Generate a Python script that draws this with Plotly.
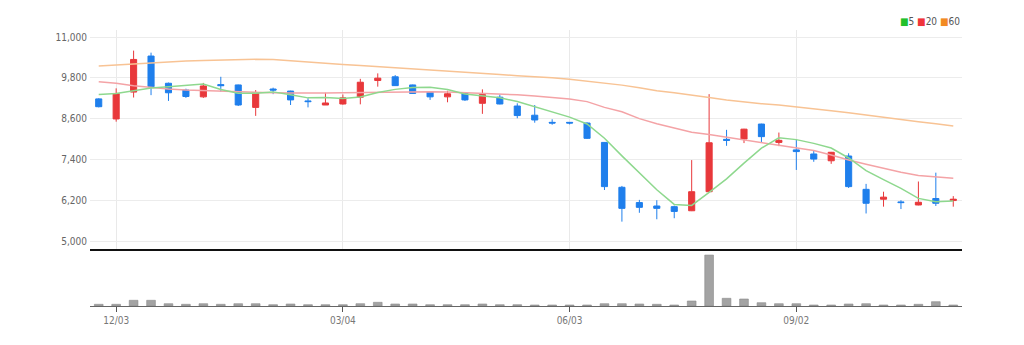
import plotly.graph_objects as go
import pandas as pd

# ---- data (weekly candles) ----
dates = [d.strftime("%Y-%m-%d") for d in pd.date_range("2018-11-26", periods=50, freq="7D")]

opens = [9180, 8590, 9380, 10440, 9640, 9440, 9240, 9600, 9590, 8930,
         9470, 9410, 9120, 9000, 9030, 9230, 9720, 9830, 9590, 9390,
         9240, 9340, 9050, 9230, 8970, 8700, 8490, 8490, 8470, 7900,
         6580, 6130, 6030, 6010, 5890, 6450, 7990, 8000, 8440, 7900,
         7680, 7560, 7360, 7500, 6520, 6230, 6150, 6060, 6250, 6190]
highs = [9200, 9490, 10600, 10540, 9660, 9480, 9650, 9830, 9600, 9440,
         9510, 9420, 9200, 9360, 9310, 9770, 9930, 9880, 9600, 9400,
         9420, 9350, 9460, 9310, 9050, 9000, 8580, 8500, 8490, 7910,
         6620, 6210, 6200, 6040, 7380, 9320, 8270, 8300, 8450, 8190,
         7990, 7650, 7620, 7580, 6680, 6450, 6200, 6750, 7010, 6320]
lows = [8930, 8510, 9220, 9290, 9120, 9210, 9210, 9390, 8970, 8680,
        9320, 9000, 8930, 9000, 9010, 9020, 9540, 9560, 9330, 9150,
        9080, 9120, 8740, 9020, 8610, 8480, 8420, 8430, 8000, 6500,
        5570, 5830, 5640, 5670, 5880, 6440, 7800, 7880, 7890, 7790,
        7090, 7330, 7270, 6560, 5810, 6010, 5940, 6050, 6030, 6010]
closes = [8950, 9340, 10340, 9540, 9360, 9250, 9560, 9570, 9000, 9360,
          9440, 9150, 9100, 9060, 9210, 9670, 9790, 9570, 9340, 9240,
          9330, 9150, 9310, 9030, 8690, 8560, 8470, 8470, 8020, 6600,
          5960, 5990, 5960, 5870, 6450, 7890, 7960, 8290, 8070, 7960,
          7630, 7410, 7610, 6600, 6110, 6290, 6130, 6140, 6110, 6230]

ma5 = [9310, 9340, 9420, 9500, 9540, 9590, 9620, 9456, 9348, 9348,
       9386, 9304, 9210, 9222, 9192, 9238, 9366, 9460, 9516, 9522,
       9454, 9326, 9274, 9212, 9102, 8948, 8812, 8644, 8442, 8024,
       7504, 7008, 6506, 6076, 6046, 6432, 6826, 7292, 7732, 8034,
       7982, 7872, 7736, 7442, 7072, 6804, 6548, 6254, 6156, 6180]
ma20 = [9686, 9640, 9570, 9510, 9470, 9440, 9420, 9400, 9380, 9370,
        9360, 9350, 9345, 9350, 9360, 9370, 9380, 9390, 9392, 9390,
        9380, 9365, 9350, 9335, 9300, 9265, 9230, 9180, 9100, 8930,
        8800, 8600, 8450, 8330, 8200, 8130, 8050, 7980, 7910, 7830,
        7750, 7660, 7530, 7380, 7260, 7140, 7020, 6930, 6880, 6843]
ma60 = [10150, 10180, 10220, 10255, 10280, 10295, 10310, 10325, 10335, 10343,
        10340, 10300, 10250, 10220, 10190, 10160, 10130, 10100, 10070, 10035,
        10000, 9970, 9935, 9900, 9860, 9840, 9800, 9755, 9700, 9640,
        9585, 9510, 9420, 9360, 9300, 9220, 9150, 9090, 9040, 9000,
        8950, 8890, 8830, 8770, 8700, 8640, 8580, 8510, 8450, 8380]
volumes = [85, 85, 285, 285, 115, 85, 115, 85, 115, 115,
           65, 100, 65, 65, 65, 115, 185, 100, 100, 65,
           65, 65, 100, 65, 65, 50, 50, 50, 50, 115,
           115, 100, 85, 50, 250, 2550, 385, 350, 165, 115,
           115, 50, 50, 100, 115, 50, 50, 85, 215, 50]  # thousands

tick_dates = ["2018-12-03", "2019-03-04", "2019-06-03", "2019-09-02"]
tick_labels = ["12/03", "03/04", "06/03", "09/02"]
price_ticks = [5000, 6200, 7400, 8600, 9800, 11000]
legend_labels = ["5", "20", "60"]

# ---- styles ----
RED = "#e8383b"
BLUE = "#1f7fec"
C_MA5 = "#8ed88e"
C_MA20 = "#f4a3a6"
C_MA60 = "#f8c394"
FONT = "Liberation Sans Narrow, DejaVu Sans Condensed, Roboto, sans-serif"

fig = go.Figure()

fig.add_trace(go.Scatter(x=dates, y=ma60, mode="lines", line=dict(color=C_MA60, width=1.5),
                         xaxis="x", yaxis="y", hoverinfo="skip"))
fig.add_trace(go.Scatter(x=dates, y=ma20, mode="lines", line=dict(color=C_MA20, width=1.5),
                         xaxis="x", yaxis="y", hoverinfo="skip"))
fig.add_trace(go.Scatter(x=dates, y=ma5, mode="lines", line=dict(color=C_MA5, width=1.5),
                         xaxis="x", yaxis="y", hoverinfo="skip"))
fig.add_trace(go.Candlestick(
    x=dates, open=opens, high=highs, low=lows, close=closes,
    increasing=dict(line=dict(color=RED, width=1), fillcolor=RED),
    decreasing=dict(line=dict(color=BLUE, width=1), fillcolor=BLUE),
    whiskerwidth=0, xaxis="x", yaxis="y"))
fig.add_trace(go.Bar(x=dates, y=volumes, marker=dict(color="#a3a3a3", line=dict(color="#8a8a8a", width=0.6)),
                     width=0.5, xaxis="x2", yaxis="y2", hoverinfo="skip"))

pane_split = 0.2065
fig.update_layout(
    width=1024, height=345,
    margin=dict(l=90, r=62, t=30, b=39),
    paper_bgcolor="white", plot_bgcolor="white",
    showlegend=False,
    boxgap=0.5,
    font=dict(family=FONT, size=10, color="#666666"),
    xaxis=dict(type="category", range=[-0.5, 49.5], domain=[0, 1], anchor="y",
               tickvals=tick_dates, ticktext=tick_labels, showticklabels=False,
               showgrid=True, gridcolor="#e9e9e9", gridwidth=1,
               showline=True, linecolor="#111111", linewidth=2, ticks="",
               rangeslider=dict(visible=False), zeroline=False),
    yaxis=dict(domain=[pane_split, 1], range=[4765, 11206], tickvals=price_ticks,
               tickformat=",", showgrid=True, gridcolor="#ececec", gridwidth=1,
               zeroline=False, showline=False, ticks="", ticklabelstandoff=2,
               tickfont=dict(size=10, color="#666666")),
    xaxis2=dict(type="category", range=[-0.5, 49.5], domain=[0, 1], anchor="y2",
                tickvals=tick_dates, ticktext=tick_labels, showgrid=False,
                showline=True, linecolor="#666666", linewidth=1,
                ticks="outside", ticklen=5, tickcolor="#555555",
                tickfont=dict(size=10, color="#777777"), zeroline=False),
    yaxis2=dict(domain=[0, 0.199], range=[0, 2750], showticklabels=False,
                showgrid=False, zeroline=False, showline=False, ticks=""),
)

legend_html = (f'<span style="color:#22c02a">■</span>{legend_labels[0]} '
               f'<span style="color:#f0343a">■</span>{legend_labels[1]} '
               f'<span style="color:#f28a22">■</span>{legend_labels[2]}')
fig.add_annotation(text=legend_html, xref="paper", yref="paper", x=1, y=1.03,
                   xanchor="right", yanchor="middle", showarrow=False,
                   font=dict(family=FONT, size=10, color="#555555"))

fig.write_html("out.html")
